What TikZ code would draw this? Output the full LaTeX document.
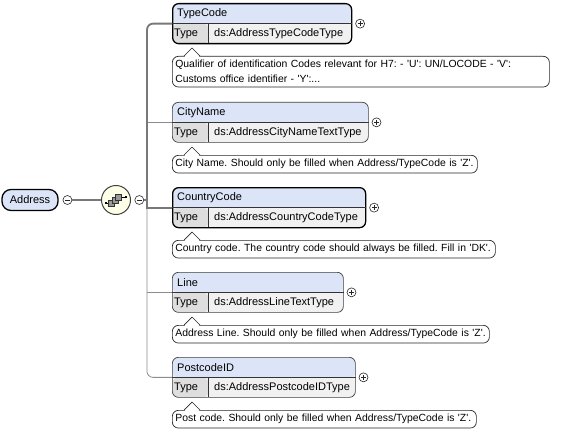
\documentclass[tikz,border=0pt]{standalone}
\usepackage{fontspec}
\newfontfamily\uifont{Liberation Sans}
\usetikzlibrary{positioning,calc}
\definecolor{hdrblue}{RGB}{219,229,247}
\definecolor{rowgray}{RGB}{241,241,241}
\definecolor{cellgray}{RGB}{222,222,222}
\definecolor{seqfill}{RGB}{254,254,232}
\definecolor{wire}{RGB}{120,120,120}
\newcommand\uisize{\fontsize{11}{15}\selectfont\frenchspacing}
\newcommand\docsize{\fontsize{10.4}{15}\selectfont\frenchspacing}

\tikzset{
  every node/.style={font=\uifont\uisize},
  mand/.style={draw=black, line width=1.3pt},
  opt/.style={draw=black!75, line width=0.7pt},
  innerline/.style={draw=black!80, line width=0.6pt},
  wirethick/.style={draw=wire, line width=1.8pt},
  wirethin/.style={draw=wire!85, line width=0.8pt},
  rootbox/.style={mand, fill=hdrblue, rounded corners=9pt, minimum width=56pt, minimum height=21pt, inner sep=0pt},
  seqcircle/.style={circle, draw=black!75, line width=1pt, fill=seqfill, minimum size=29pt, inner sep=0pt},
  minus/.style={circle, draw=black!85, line width=0.6pt, fill=white, minimum size=9pt, inner sep=0pt,
    path picture={\draw[line width=0.6pt] ([xshift=-2.4pt]path picture bounding box.center) -- ([xshift=2.4pt]path picture bounding box.center);}},
  plus/.style={minus,
    path picture={\draw[line width=0.6pt] ([xshift=-2.4pt]path picture bounding box.center) -- ([xshift=2.4pt]path picture bounding box.center)
      ([yshift=-2.4pt]path picture bounding box.center) -- ([yshift=2.4pt]path picture bounding box.center);}},
  elembox/.style={anchor=north west, rounded corners=6pt, minimum height=40pt, inner sep=0pt, fill=rowgray,
    path picture={
      \fill[hdrblue] (path picture bounding box.north west) rectangle (path picture bounding box.east);
      \fill[cellgray] (path picture bounding box.west) rectangle ([xshift=36pt]path picture bounding box.south west);}},
  docbox/.style={anchor=north west, draw=black!85, line width=0.7pt, fill=white, rounded corners=6pt,
    inner xsep=3pt, inner ysep=4pt, align=left, font=\uifont\docsize},
}

\begin{document}
\begin{tikzpicture}[x=1pt,y=-1pt]
\useasboundingbox (0,0) rectangle (572,433);

% root element and sequence
\node[rootbox] (Address) at (30,200) {Address};
\node[minus, right=4pt of Address] (Address-m) {};
\node[seqcircle] (seq) at (116,200) {};
\node[minus, right=3.5pt of seq] (seq-m) {};
\coordinate (fork) at (147,200);
\draw[wirethick] (Address-m) -- (seq);
\draw[wirethick] (seq-m) -- (fork);

% sequence icon
\draw[line width=0.7pt] ($(seq)+(-10,3)$) -- ($(seq)+(-7,3)$);
\draw[line width=0.7pt] ($(seq)+(5,-3)$) -- ($(seq)+(10,-3)$);
\foreach \dx/\dy in {-4.5/3,-1/0,2.5/-3}
  \filldraw[fill=black!40, draw=black!80, line width=0.5pt] ($(seq)+(\dx-3.2,\dy-3.2)$) rectangle ($(seq)+(\dx+3.2,\dy+3.2)$);
\fill ($(seq)+(-10,3)$) +(-1.3,-1.3) rectangle +(1.3,1.3);
\fill ($(seq)+(10,-3)$) +(-1.3,-1.3) rectangle +(1.3,1.3);

% child elements
\foreach \n/\t/\w/\ty/\dw/\doc/\kind in {
  TypeCode/3/179/{ds:AddressTypeCodeType}/377/{Qualifier of identification Codes relevant for H7: - 'U': UN/LOCODE - 'V':\\Customs office identifier - 'Y':...}/mand,
  CityName/102/196/{ds:AddressCityNameTextType}/305/{City Name. Should only be filled when Address/TypeCode is 'Z'.}/opt,
  CountryCode/187/193/{ds:AddressCountryCodeType}/323/{Country code. The country code should always be filled. Fill in 'DK'.}/mand,
  Line/272/171/{ds:AddressLineTextType}/317/{Address Line. Should only be filled when Address/TypeCode is 'Z'.}/opt,
  PostcodeID/357/183/{ds:AddressPostcodeIDType}/304/{Post code. Should only be filled when Address/TypeCode is 'Z'.}/opt} {
  \node[elembox, \kind, minimum width=\w pt] (\n) at (172,\t) {};
  \draw[innerline] (\n.west) -- (\n.east);
  \draw[innerline] (208,{\t+20}) -- (208,{\t+40});
  \node[anchor=west, inner sep=2pt] at (175,{\t+10.5}) {\n};
  \node[anchor=west, inner sep=1.5pt] at (172.5,{\t+30.5}) {Type};
  \node[anchor=west, inner sep=2pt] at (212,{\t+30.5}) {\ty};
  \node[plus, right=3pt of \n] (\n-p) {};
  \pgfmathsetmacro\tw{\dw-6}
  \node[docbox, text width=\tw pt] (\n-doc) at (172,{\t+53}) {\doc};
  \fill[white] (184.6,{\t+53.8}) -- (192,{\t+46.2}) -- (199.4,{\t+53.8}) -- cycle;
  \draw[draw=black!85, line width=0.7pt] (184,{\t+53}) -- (192,{\t+45}) -- (200,{\t+53});
}

% tree connectors
\draw[wirethin, rounded corners=6pt] (PostcodeID.west) -| (CountryCode.west -| fork);
\draw[wirethin] (CityName.west) -- (CityName.west -| fork);
\draw[wirethin] (Line.west) -- (Line.west -| fork);
\draw[wirethick, rounded corners=6pt] (TypeCode.west) -| (fork);
\draw[wirethick] (fork) |- (CountryCode.west);
\end{tikzpicture}
\end{document}
